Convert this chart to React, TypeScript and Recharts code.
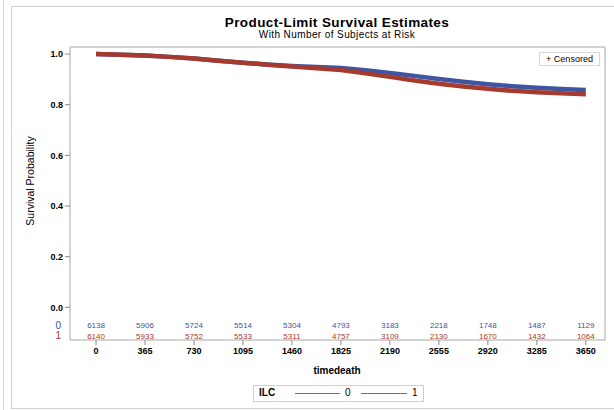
import { LineChart, Line, XAxis, YAxis, ReferenceArea, ReferenceDot } from "recharts";

const times = [0, 182, 365, 547, 730, 912, 1095, 1277, 1460, 1642, 1825, 2007, 2190, 2372, 2555, 2737, 2920, 3102, 3285, 3467, 3650];
const survIlc0 = [1.0, 0.997, 0.994, 0.989, 0.983, 0.974, 0.966, 0.959, 0.953, 0.949, 0.945, 0.936, 0.925, 0.914, 0.902, 0.891, 0.881, 0.873, 0.867, 0.862, 0.858];
const survIlc1 = [1.0, 0.997, 0.994, 0.989, 0.983, 0.974, 0.966, 0.958, 0.951, 0.944, 0.937, 0.924, 0.91, 0.896, 0.883, 0.872, 0.863, 0.855, 0.849, 0.845, 0.841];

const xTicks = [0, 365, 730, 1095, 1460, 1825, 2190, 2555, 2920, 3285, 3650];
const yTicks = [0, 0.2, 0.4, 0.6, 0.8, 1.0];
const atRisk0 = [6138, 5906, 5724, 5514, 5304, 4793, 3183, 2218, 1748, 1487, 1129];
const atRisk1 = [6140, 5933, 5752, 5533, 5311, 4757, 3109, 2130, 1670, 1432, 1064];

const BLUE = "#3d55a3";
const RED = "#a63a2e";
const FONT = "'Liberation Sans', Arial, sans-serif";

const X_DOMAIN = [-194, 3793];
const Y_DOMAIN = [-0.129, 1.028];

const data = times.map((t, i) => ({ t, s0: survIlc0[i], s1: survIlc1[i] }));

// at-risk rows sit below 0 inside the plot frame
const ROW0_Y = -0.07;
const ROW1_Y = -0.113;
const ROW_LABEL_X = -281;

function riskText(color: string, value: string | number, size = 8) {
  return (p: any) => (
    <text x={p.cx} y={p.cy} dy="0.35em" textAnchor="middle" fill={color} fontSize={size} fontFamily={FONT}>
      {value}
    </text>
  );
}

export default function App() {
  return (
    <div style={{ position: "absolute", left: 0, top: 0, width: 614, height: 410, background: "#fff", fontFamily: FONT, overflow: "hidden" }}>
      <div style={{ position: "absolute", left: 3, top: 0, width: 0, height: 410, borderLeft: "1px solid #d8d8d8" }} />
      <div style={{ position: "absolute", left: 11, top: 6, width: 620, height: 401, border: "1px solid #d0d0d0" }} />
      <div
        style={{
          position: "absolute",
          left: 0,
          width: 674,
          top: 16,
          lineHeight: "13px",
          textAlign: "center",
          fontWeight: "bold",
          fontSize: 13.5,
          letterSpacing: 0.4,
          color: "#000",
        }}
      >
        Product-Limit Survival Estimates
      </div>
      <div
        style={{ position: "absolute", left: 0, width: 674, top: 30, lineHeight: "9px", textAlign: "center", fontSize: 10, letterSpacing: 0.4, color: "#000" }}
      >
        With Number of Subjects at Risk
      </div>
      <div
        style={{
          position: "absolute",
          left: 30,
          top: 181,
          transform: "translate(-50%, -50%) rotate(-90deg)",
          fontSize: 10.5,
          whiteSpace: "nowrap",
          color: "#000",
        }}
      >
        Survival Probability
      </div>
      <div style={{ position: "absolute", left: 0, width: 674, top: 365, textAlign: "center", fontSize: 10, fontWeight: "bold", color: "#000" }}>
        timedeath
      </div>
      <div
        style={{
          position: "absolute",
          left: 539,
          top: 52,
          width: 59,
          height: 12,
          border: "1px solid #d8d8d8",
          fontSize: 9,
          lineHeight: "12px",
          textAlign: "center",
          background: "#fff",
          zIndex: 2,
          color: "#000",
        }}
      >
        + Censored
      </div>
      <div
        style={{
          position: "absolute",
          left: 253,
          top: 385,
          width: 169,
          height: 15,
          border: "1px solid #d0d0d0",
          fontSize: 10,
          color: "#000",
        }}
      >
        <div style={{ position: "absolute", left: 5, top: 1, fontWeight: "bold" }}>ILC</div>
        <div style={{ position: "absolute", left: 41, top: 7, width: 45, height: 1, background: "#5a6fb8" }} />
        <div style={{ position: "absolute", left: 91, top: 1 }}>0</div>
        <div style={{ position: "absolute", left: 107, top: 7, width: 46, height: 1, background: "#c0503f" }} />
        <div style={{ position: "absolute", left: 158, top: 1 }}>1</div>
      </div>
      <div style={{ position: "absolute", left: 0, top: 0 }}>
        <LineChart width={614} height={410} data={data} margin={{ top: 47, right: 9, bottom: 40, left: 30 }}>
          <XAxis
            dataKey="t"
            type="number"
            domain={X_DOMAIN}
            ticks={xTicks}
            allowDataOverflow
            axisLine={false}
            tickLine={{ stroke: "#8c8c8c" }}
            tickSize={5}
            tickMargin={3}
            height={30}
            tick={{ fontSize: 9, fontWeight: "bold", fill: "#000", fontFamily: FONT }}
          />
          <YAxis
            type="number"
            domain={Y_DOMAIN}
            ticks={yTicks}
            allowDataOverflow
            axisLine={false}
            tickLine={{ stroke: "#8c8c8c" }}
            tickSize={5}
            tickMargin={2}
            width={40}
            tickFormatter={(v: number) => v.toFixed(1)}
            tick={{ fontSize: 9, fontWeight: "bold", fill: "#000", fontFamily: FONT }}
          />
          <ReferenceArea
            x1={X_DOMAIN[0]}
            x2={X_DOMAIN[1]}
            y1={Y_DOMAIN[0]}
            y2={Y_DOMAIN[1]}
            fill="none"
            fillOpacity={0}
            stroke="#a8a8a8"
            strokeWidth={1}
            ifOverflow="visible"
          />
          <Line type="linear" dataKey="s0" stroke={BLUE} strokeWidth={4.5} dot={false} isAnimationActive={false} />
          <Line type="linear" dataKey="s1" stroke={RED} strokeWidth={4.5} dot={false} isAnimationActive={false} />
          {xTicks.map((t, i) => (
            <ReferenceDot key={"r0" + t} x={t} y={ROW0_Y} r={0} shape={riskText(BLUE, atRisk0[i])} />
          ))}
          {xTicks.map((t, i) => (
            <ReferenceDot key={"r1" + t} x={t} y={ROW1_Y} r={0} shape={riskText(RED, atRisk1[i])} />
          ))}
          <ReferenceDot x={ROW_LABEL_X} y={ROW0_Y} r={0} ifOverflow="visible" shape={riskText(BLUE, "0", 10)} />
          <ReferenceDot x={ROW_LABEL_X} y={ROW1_Y} r={0} ifOverflow="visible" shape={riskText(RED, "1", 10)} />
        </LineChart>
      </div>
    </div>
  );
}
